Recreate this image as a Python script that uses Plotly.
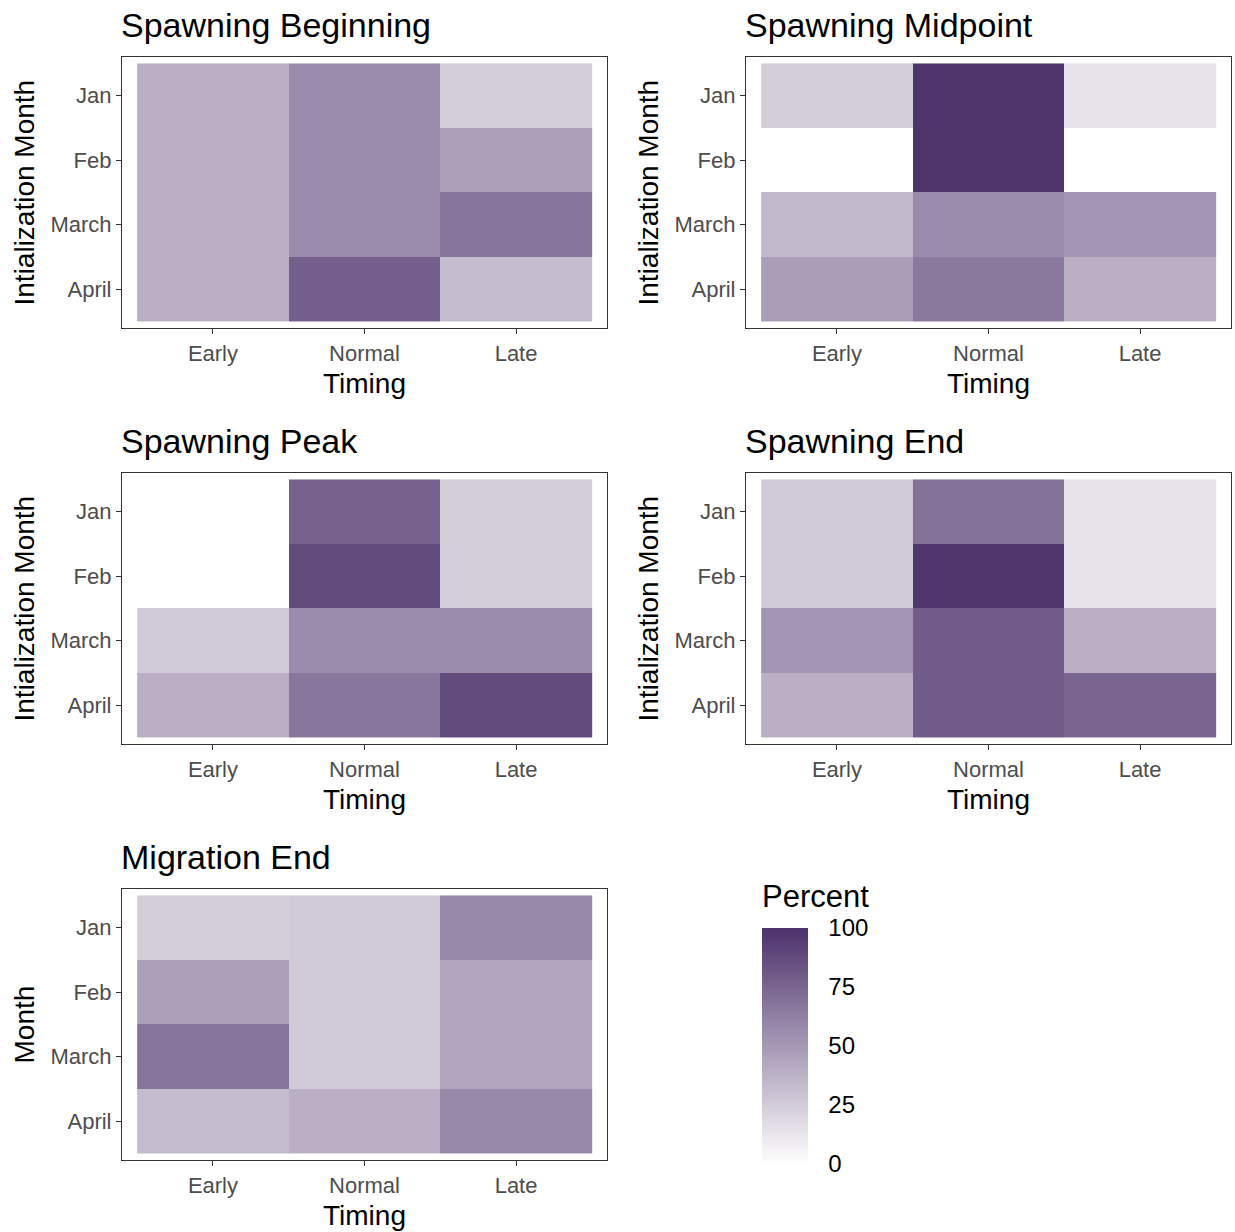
import plotly.graph_objects as go

# ---- data -------------------------------------------------------------
timing = ["Early", "Normal", "Late"]
months = ["Jan", "Feb", "March", "April"]

# percent values, rows = initialization month (Jan..April), cols = timing
spawning_beginning = [
    [39, 57, 24],
    [39, 57, 47],
    [39, 57, 68],
    [39, 78, 33],
]
spawning_midpoint = [
    [24, 99, 14],
    [0, 99, 0],
    [34, 57, 52],
    [48, 66, 39],
]
spawning_peak = [
    [0, 77, 24],
    [0, 88, 24],
    [26, 57, 57],
    [39, 67, 88],
]
spawning_end = [
    [26, 69, 14],
    [26, 98, 14],
    [52, 80, 39],
    [39, 80, 75],
]
migration_end = [
    [24, 26, 58],
    [47, 26, 44],
    [68, 26, 44],
    [33, 39, 58],
]

panel_titles = ["Spawning Beginning", "Spawning Midpoint", "Spawning Peak",
                "Spawning End", "Migration End"]
panel_data = [spawning_beginning, spawning_midpoint, spawning_peak,
              spawning_end, migration_end]
y_titles = ["Intialization Month"] * 4 + ["Month"]

colorbar_ticks = [0, 25, 50, 75, 100]

# ---- layout geometry (pixels) -----------------------------------------
W, H = 1235, 1232
boxes = [  # x0, x1, y0, y1 of each panel border
    (122, 607, 57, 328),
    (746, 1231, 57, 328),
    (122, 607, 473, 744),
    (746, 1231, 473, 744),
    (122, 607, 889, 1160),
]
cbar_x0, cbar_x1, cbar_top, cbar_bottom = 762, 808, 928, 1164

FONT = "Liberation Sans, Arial, sans-serif"
LOW, HIGH = "#FFFFFF", "#4D326B"
colorscale = [[0, LOW], [1, HIGH]]


def px_x(x):
    return x / W


def px_y(y):
    return 1 - y / H


fig = go.Figure()
annotations = []

for i, (title, z, ytitle, box) in enumerate(zip(panel_titles, panel_data, y_titles, boxes)):
    n = "" if i == 0 else str(i + 1)
    x0, x1, y0, y1 = box
    fig.add_trace(go.Heatmap(
        z=z,
        x=list(range(len(timing))),
        y=list(range(len(months))),
        zmin=0, zmax=100,
        colorscale=colorscale,
        showscale=(i == 0),
        xaxis="x" + n, yaxis="y" + n,
        hoverinfo="skip",
        colorbar=dict(
            x=px_x(cbar_x0), xanchor="left",
            y=px_y(cbar_bottom), yanchor="bottom",
            lenmode="pixels", len=cbar_bottom - cbar_top,
            thickness=cbar_x1 - cbar_x0, thicknessmode="pixels",
            xpad=0, ypad=0,
            outlinewidth=0,
            tickvals=colorbar_ticks,
            ticks="outside", ticklen=16, tickcolor="rgba(0,0,0,0)",
            tickfont=dict(family=FONT, size=24, color="black"),
        ) if i == 0 else None,
    ))

    axis_common = dict(showgrid=False, zeroline=False, showline=True, mirror=True,
                       linecolor="#333333", linewidth=1.2, ticks="outside",
                       ticklen=5, tickwidth=1.2, tickcolor="#333333",
                       tickfont=dict(family=FONT, size=22, color="#4D4D4D"),
                       fixedrange=True)
    fig.layout["xaxis" + n] = dict(
        axis_common,
        domain=[px_x(x0), px_x(x1)],
        anchor="y" + n,
        range=[-0.6, 2.6],
        tickvals=list(range(len(timing))), ticktext=timing,
    )
    fig.layout["yaxis" + n] = dict(
        axis_common,
        domain=[px_y(y1), px_y(y0)],
        anchor="x" + n,
        range=[3.6, -0.6],
        tickvals=list(range(len(months))), ticktext=months,
    )

    # panel title
    annotations.append(dict(
        text=title, xref="paper", yref="paper",
        x=px_x(x0 - 3), y=px_y(y0 - 32), xanchor="left", yanchor="middle",
        showarrow=False, font=dict(family=FONT, size=34, color="black"),
    ))
    # x-axis title
    annotations.append(dict(
        text="Timing", xref="paper", yref="paper",
        x=px_x((x0 + x1) / 2), y=px_y(y1 + 55), xanchor="center", yanchor="middle",
        showarrow=False, font=dict(family=FONT, size=28, color="black"),
    ))
    # y-axis title
    annotations.append(dict(
        text=ytitle, xref="paper", yref="paper", textangle=-90,
        x=px_x(x0 - 98), y=px_y((y0 + y1) / 2), xanchor="center", yanchor="middle",
        showarrow=False, font=dict(family=FONT, size=28, color="black"),
    ))

# legend title
annotations.append(dict(
    text="Percent", xref="paper", yref="paper",
    x=px_x(cbar_x0 - 2), y=px_y(cbar_top - 32), xanchor="left", yanchor="middle",
    showarrow=False, font=dict(family=FONT, size=31, color="black"),
))

# hidden axes laid over the colour bar, used for its white tick marks
fig.layout["xaxis6"] = dict(domain=[px_x(cbar_x0), px_x(cbar_x1)], range=[0, 1],
                            visible=False, anchor="y6", fixedrange=True)
fig.layout["yaxis6"] = dict(domain=[px_y(cbar_bottom), px_y(cbar_top)], range=[0, 100],
                            visible=False, anchor="x6", fixedrange=True)
shapes = []
for v in colorbar_ticks[1:-1]:
    for a, b in ((0, 0.2), (0.8, 1)):
        shapes.append(dict(type="line", xref="x6", yref="y6", x0=a, x1=b, y0=v, y1=v,
                           line=dict(color="white", width=1.2), layer="above"))

fig.update_layout(
    width=W, height=H,
    margin=dict(l=0, r=0, t=0, b=0),
    paper_bgcolor="white", plot_bgcolor="white",
    annotations=annotations,
    shapes=shapes,
    showlegend=False,
)

fig.write_html("out.html", config={"displayModeBar": False})
